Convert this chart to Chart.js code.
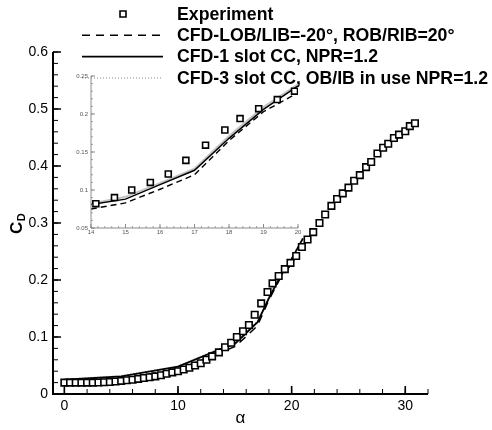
<!DOCTYPE html>
<html>
<head>
<meta charset="utf-8">
<script src="https://cdn.jsdelivr.net/npm/chart.js@4.4.1/dist/chart.umd.min.js"></script>
<style>
    html, body { margin: 0; padding: 0; background: #fff; }
    #wrap { position: relative; width: 492px; height: 430px; }
    #mainChart { position: absolute; left: 0; top: 0; }
    #insetChart { position: absolute; left: 60px; top: 66px; }
</style>
</head>
<body>
<div id="wrap">
    <canvas id="mainChart" width="492" height="430"></canvas>
    <canvas id="insetChart" width="250" height="180"></canvas>
</div>
<script>
// Experiment (wind tunnel) drag coefficient
const expAlpha = [0, 0.5, 1, 1.5, 2, 2.5, 3, 3.5, 4, 4.5, 5, 5.5, 6, 6.5, 7, 7.5, 8, 8.5, 9, 9.5,
    10, 10.5, 11, 11.5, 12, 12.5, 13, 13.6, 14.14, 14.68, 15.18, 15.72, 16.24, 16.75, 17.32, 17.88,
    18.32, 18.86, 19.4, 19.9, 20.4, 20.9, 21.4, 21.9, 22.45, 22.95, 23.5, 24.0, 24.5, 25.0, 25.5,
    26.0, 26.55, 27.0, 27.55, 28.05, 28.5, 29.0, 29.45, 30.0, 30.4, 30.85];
const expCd = [0.020, 0.020, 0.020, 0.020, 0.020, 0.020, 0.0202, 0.0206, 0.021, 0.022, 0.023, 0.024,
    0.025, 0.0265, 0.028, 0.0295, 0.031, 0.033, 0.0355, 0.038, 0.040, 0.043, 0.046, 0.050, 0.054,
    0.060, 0.066, 0.073, 0.082, 0.090, 0.100, 0.110, 0.121, 0.139, 0.159, 0.179, 0.194, 0.207,
    0.219, 0.230, 0.242, 0.258, 0.271, 0.284, 0.300, 0.315, 0.330, 0.342, 0.352, 0.362, 0.374,
    0.384, 0.398, 0.407, 0.422, 0.432, 0.439, 0.449, 0.455, 0.461, 0.470, 0.475];

// CFD runs
const cfdAlpha = [0, 5, 10, 14, 15, 16, 17, 18, 19, 20, 21];
const lobLibCd = [0.022, 0.027, 0.043, 0.075, 0.083, 0.101, 0.120, 0.165, 0.203, 0.228, 0.262];
const oneSlotCd = [0.025, 0.031, 0.048, 0.081, 0.088, 0.107, 0.126, 0.168, 0.206, 0.237, 0.273];
const threeSlotCd = [0.026, 0.032, 0.049, 0.082, 0.091, 0.109, 0.128, 0.171, 0.209, 0.239, 0.275];

const seriesLabels = [
    'Experiment',
    'CFD-LOB/LIB=-20\u00B0, ROB/RIB=20\u00B0',
    'CFD-1 slot CC, NPR=1.2',
    'CFD-3 slot CC, OB/IB in use NPR=1.2'
];

// Tick labels
const mainXTicks = [0, 10, 20, 30];
const mainYTicks = [0, 0.1, 0.2, 0.3, 0.4, 0.5, 0.6];
const insetXTicks = [14, 15, 16, 17, 18, 19, 20];
const insetYTicks = [0.05, 0.1, 0.15, 0.2, 0.25];

const FONT = '"Liberation Sans", Arial, Helvetica, sans-serif';

function toPoints(xs, ys) {
    return xs.map((x, i) => ({ x: x, y: ys[i] }));
}

function buildDatasets(small) {
    return [
        {
            label: seriesLabels[0],
            data: toPoints(expAlpha, expCd),
            showLine: false,
            pointStyle: 'rect',
            pointRadius: small ? 4.2 : 4.6,
            pointBorderWidth: 1.6,
            pointBackgroundColor: '#fff',
            pointBorderColor: '#000'
        },
        {
            label: seriesLabels[1],
            data: toPoints(cfdAlpha, lobLibCd),
            showLine: true,
            borderColor: '#000',
            borderWidth: 1.5,
            borderDash: [8, 6],
            pointRadius: 0
        },
        {
            label: seriesLabels[2],
            data: toPoints(cfdAlpha, oneSlotCd),
            showLine: true,
            borderColor: '#000',
            borderWidth: 1.8,
            pointRadius: 0
        },
        {
            label: seriesLabels[3],
            data: toPoints(cfdAlpha, threeSlotCd),
            showLine: true,
            borderColor: '#b0b0b0',
            borderWidth: 1.5,
            borderDash: [1, 2],
            pointRadius: 0
        }
    ];
}

// Inward ticks and axis lines (left + bottom only)
const axesPlugin = {
    id: 'axesPlugin',
    afterDatasetsDraw(chart, args, o) {
        const ctx = chart.ctx;
        const a = chart.chartArea;
        const xs = chart.scales.x;
        const ys = chart.scales.y;
        ctx.save();
        ctx.strokeStyle = o.color;

        function ticks(scale, step, len, horizontal) {
            ctx.beginPath();
            const n0 = Math.ceil(scale.min / step - 1e-6);
            const n1 = Math.floor(scale.max / step + 1e-6);
            for (let n = n0; n <= n1; n++) {
                const p = scale.getPixelForValue(n * step);
                if (horizontal) {
                    ctx.moveTo(p, a.bottom);
                    ctx.lineTo(p, a.bottom - len);
                } else {
                    ctx.moveTo(a.left, p);
                    ctx.lineTo(a.left + len, p);
                }
            }
            ctx.stroke();
        }

        ctx.lineWidth = o.minorWidth;
        ticks(xs, o.xMinor, o.minorLen, true);
        ticks(ys, o.yMinor, o.minorLen, false);
        ctx.lineWidth = o.majorWidth;
        ticks(xs, o.xMajor, o.majorLen, true);
        ticks(ys, o.yMajor, o.majorLen, false);

        ctx.lineWidth = o.lineWidth;
        ctx.beginPath();
        ctx.moveTo(a.left, a.top);
        ctx.lineTo(a.left, a.bottom);
        ctx.lineTo(a.right, a.bottom);
        ctx.stroke();
        ctx.restore();
    }
};

// Legend in the top right and axis titles
const labelsPlugin = {
    id: 'labelsPlugin',
    afterDraw(chart) {
        const ctx = chart.ctx;
        const a = chart.chartArea;
        ctx.save();

        // legend
        ctx.font = 'bold 17.7px ' + FONT;
        ctx.textBaseline = 'middle';
        ctx.textAlign = 'left';
        chart.data.datasets.forEach((ds, i) => {
            const y = 14 + i * 21.3;
            if (ds.showLine) {
                ctx.save();
                ctx.strokeStyle = ds.borderColor;
                ctx.lineWidth = ds.borderWidth;
                ctx.setLineDash(ds.borderDash || []);
                ctx.beginPath();
                ctx.moveTo(82, y);
                ctx.lineTo(163, y);
                ctx.stroke();
                ctx.restore();
            } else {
                ctx.save();
                ctx.fillStyle = '#fff';
                ctx.strokeStyle = '#000';
                ctx.lineWidth = 1.6;
                ctx.beginPath();
                ctx.rect(120, y - 3, 6, 6);
                ctx.fill();
                ctx.stroke();
                ctx.restore();
            }
            ctx.fillStyle = '#000';
            ctx.fillText(ds.label, 177, y + 1);
        });

        // x title
        ctx.font = '17px ' + FONT;
        ctx.textAlign = 'center';
        ctx.fillText('\u03B1', (a.left + a.right) / 2, 418);

        // y title, C with subscript D
        ctx.translate(22, 234);
        ctx.rotate(-Math.PI / 2);
        ctx.textAlign = 'left';
        ctx.textBaseline = 'alphabetic';
        ctx.font = 'bold 17px ' + FONT;
        ctx.fillText('C', 0, 0);
        const cw = ctx.measureText('C').width;
        ctx.font = 'bold 11px ' + FONT;
        ctx.fillText('D', cw + 0.5, 3);
        ctx.restore();
    }
};

function setTicks(list) {
    return function (scale) {
        scale.ticks = list.map(v => ({ value: v }));
    };
}

function fmt(v) {
    return v === 0 ? '0' : String(v);
}

function initMainChart() {
    const ctx = document.getElementById('mainChart').getContext('2d');
    new Chart(ctx, {
        type: 'scatter',
        data: { datasets: buildDatasets(false) },
        options: {
            responsive: false,
            animation: false,
            devicePixelRatio: 1,
            layout: { padding: { top: 52, right: 64, bottom: 0, left: 0 } },
            plugins: {
                legend: { display: false },
                tooltip: { enabled: false },
                axesPlugin: {
                    color: '#000', lineWidth: 2, majorWidth: 1.6, minorWidth: 1,
                    majorLen: 8, minorLen: 5,
                    xMajor: 10, xMinor: 2, yMajor: 0.1, yMinor: 0.02
                }
            },
            scales: {
                x: {
                    type: 'linear', min: -1, max: 32,
                    afterBuildTicks: setTicks(mainXTicks),
                    afterFit: function (scale) { scale.height = 36; },
                    grid: { display: false, drawTicks: false },
                    border: { display: false },
                    ticks: {
                        color: '#000', padding: 4, maxRotation: 0, autoSkip: false,
                        font: { family: FONT, size: 14 },
                        callback: fmt
                    }
                },
                y: {
                    type: 'linear', min: 0, max: 0.6,
                    afterBuildTicks: setTicks(mainYTicks),
                    afterFit: function (scale) { scale.width = 53; },
                    grid: { display: false, drawTicks: false },
                    border: { display: false },
                    ticks: {
                        color: '#000', padding: 5, autoSkip: false,
                        font: { family: FONT, size: 14 },
                        callback: fmt
                    }
                }
            }
        },
        plugins: [axesPlugin, labelsPlugin]
    });
}

function initInsetChart() {
    const ctx = document.getElementById('insetChart').getContext('2d');
    const sets = buildDatasets(true);
    sets[1].borderWidth = 1.4;
    sets[1].borderDash = [6, 4];
    sets[2].borderWidth = 1.5;
    sets[3].borderWidth = 2;
    sets[3].borderDash = [];
    sets[3].borderColor = '#c4c4c4';
    new Chart(ctx, {
        type: 'scatter',
        data: { datasets: sets },
        options: {
            responsive: false,
            animation: false,
            devicePixelRatio: 1,
            layout: { padding: { top: 10, right: 12, bottom: 0, left: 0 } },
            plugins: {
                legend: { display: false },
                tooltip: { enabled: false },
                axesPlugin: {
                    color: '#8a8a8a', lineWidth: 1, majorWidth: 1, minorWidth: 0.8,
                    majorLen: 4, minorLen: 2,
                    xMajor: 1, xMinor: 0.2, yMajor: 0.05, yMinor: 0.01
                }
            },
            scales: {
                x: {
                    type: 'linear', min: 14, max: 20,
                    afterBuildTicks: setTicks(insetXTicks),
                    afterFit: function (scale) { scale.height = 18; },
                    grid: { display: false, drawTicks: false },
                    border: { display: false },
                    ticks: {
                        color: '#555', padding: 1, maxRotation: 0, autoSkip: false,
                        font: { family: FONT, size: 6 },
                        callback: fmt
                    }
                },
                y: {
                    type: 'linear', min: 0.05, max: 0.25,
                    afterBuildTicks: setTicks(insetYTicks),
                    afterFit: function (scale) { scale.width = 31; },
                    grid: { display: false, drawTicks: false },
                    border: { display: false },
                    ticks: {
                        color: '#555', padding: 3, autoSkip: false,
                        font: { family: FONT, size: 6 },
                        callback: fmt
                    }
                }
            }
        },
        plugins: [axesPlugin]
    });
}

initMainChart();
initInsetChart();
</script>
</body>
</html>
